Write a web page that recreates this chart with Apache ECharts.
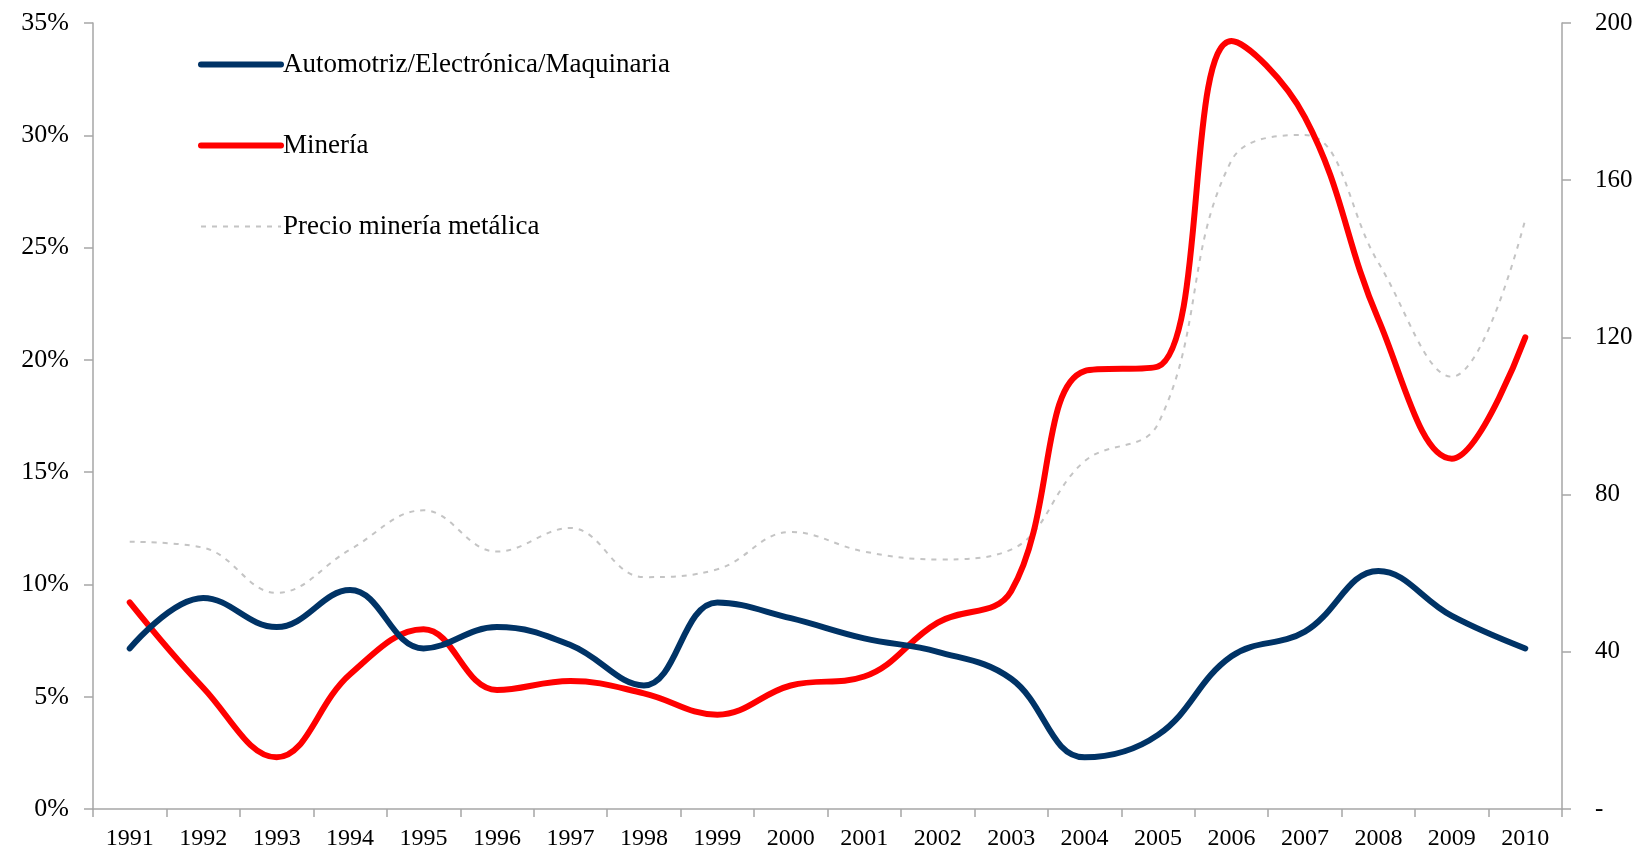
<!DOCTYPE html>
<html>
<head>
<meta charset="utf-8">
<script src="https://cdn.jsdelivr.net/npm/echarts@6/dist/echarts.min.js"></script>
<style>
html,body{margin:0;padding:0;background:#fff;}
#chart{width:1648px;height:851px;}
</style>
</head>
<body>
<div id="chart"></div>
<script>
const years = ['1991','1992','1993','1994','1995','1996','1997','1998','1999','2000','2001','2002','2003','2004','2005','2006','2007','2008','2009','2010'];
const automotriz = [7.15, 9.4, 8.1, 9.75, 7.15, 8.1, 7.3, 5.5, 9.2, 8.5, 7.6, 7.0, 5.8, 2.3, 3.3, 6.8, 7.9, 10.6, 8.6, 7.15];
const mineria = [9.2, 5.4, 2.3, 6.0, 8.0, 5.3, 5.7, 5.15, 4.2, 5.5, 5.9, 8.3, 9.7, 19.5, 19.7, 34.2, 30.8, 21.8, 15.6, 21.0];
const precio = [68, 66.5, 55, 66, 76, 65.5, 71.5, 59, 61, 70.5, 65.5, 63.5, 66, 88.5, 98, 165, 171.5, 139, 110, 150];
const names = ['Automotriz/Electrónica/Maquinaria', 'Minería', 'Precio minería metálica'];

const FONT = '"Liberation Serif", "Times New Roman", serif';
const BLUE = '#003366', RED = '#ff0000', GRAY = '#c4c4c4', AXIS = '#a6a6a6';
const chart = echarts.init(document.getElementById('chart'));
chart.setOption({
  animation: false,
  backgroundColor: '#ffffff',
  textStyle: { fontFamily: FONT },
  grid: { left: 93, right: 86, top: 23, bottom: 41, containLabel: false },
  legend: {
    orient: 'vertical',
    left: 193,
    top: 45,
    itemWidth: 80,
    itemHeight: 14,
    itemGap: 52,
    itemStyle: { opacity: 0 },
    data: [
      { name: names[0], lineStyle: { color: BLUE, width: 6, cap: 'round' } },
      { name: names[1], lineStyle: { color: RED, width: 6, cap: 'round' } },
      { name: names[2], lineStyle: { color: GRAY, width: 2, type: [5, 6] } }
    ],
    textStyle: { fontFamily: FONT, fontSize: 27, color: '#000', lineHeight: 29, padding: [0, 0, 0, -3] }
  },
  xAxis: {
    type: 'category',
    data: years,
    boundaryGap: true,
    axisLine: { lineStyle: { color: AXIS, width: 1.5 } },
    axisTick: { show: true, interval: 0, length: 8, lineStyle: { color: AXIS, width: 1.5 } },
    axisLabel: { interval: 0, margin: 18, color: '#000', fontSize: 24, fontFamily: FONT }
  },
  yAxis: [
    {
      type: 'value', min: 0, max: 35, interval: 5, position: 'left',
      axisLine: { show: true, lineStyle: { color: AXIS, width: 1.5 } },
      axisTick: { show: true, length: 9, lineStyle: { color: AXIS, width: 1.5 } },
      splitLine: { show: false },
      axisLabel: { formatter: v => v + '%', color: '#000', fontSize: 26, fontFamily: FONT, margin: 24 }
    },
    {
      type: 'value', min: 0, max: 200, interval: 40, position: 'right',
      axisLine: { show: true, lineStyle: { color: AXIS, width: 1.5 } },
      axisTick: { show: true, length: 9, lineStyle: { color: AXIS, width: 1.5 } },
      splitLine: { show: false },
      axisLabel: { formatter: v => v === 0 ? '-' : String(v), color: '#000', fontSize: 25, fontFamily: FONT, margin: 33 }
    }
  ],
  series: [
    {
      name: names[2], type: 'line', yAxisIndex: 1, data: precio, smooth: 0.4,
      symbol: 'none', z: 1,
      lineStyle: { color: GRAY, width: 2, type: [5, 6] },
      itemStyle: { color: GRAY }
    },
    {
      name: names[0], type: 'line', yAxisIndex: 0, data: automotriz, smooth: 0.4,
      symbol: 'none', z: 3,
      lineStyle: { color: BLUE, width: 6, cap: 'round' },
      itemStyle: { color: BLUE }
    },
    {
      name: names[1], type: 'line', yAxisIndex: 0, data: mineria, smooth: 0.4,
      symbol: 'none', z: 2,
      lineStyle: { color: RED, width: 6, cap: 'round' },
      itemStyle: { color: RED }
    }
  ]
});
</script>
</body>
</html>
